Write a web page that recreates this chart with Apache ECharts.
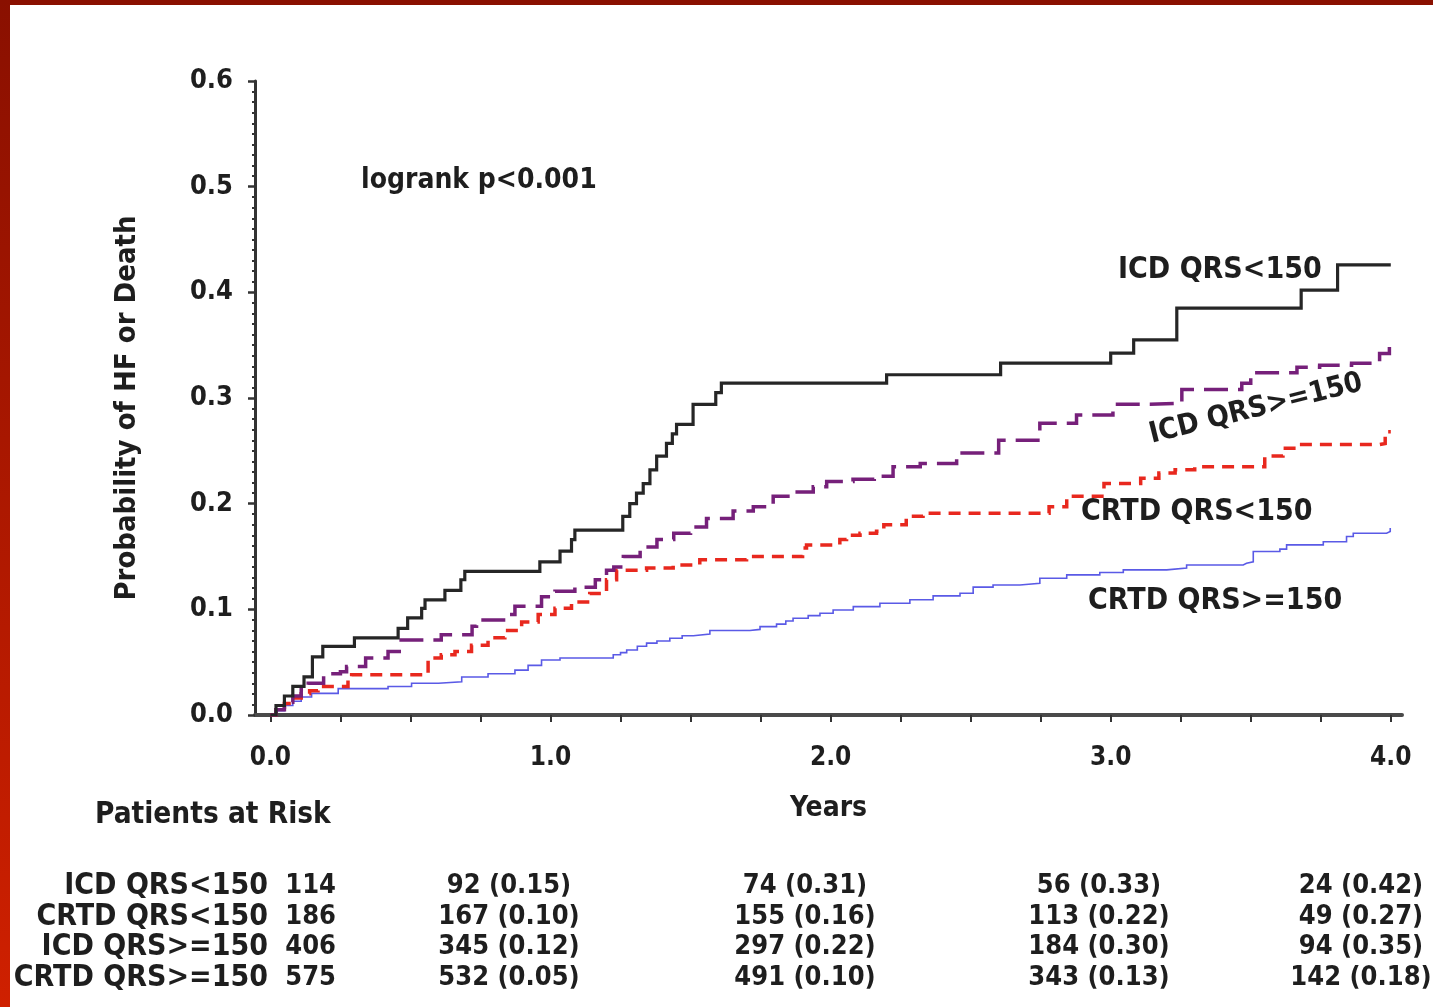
<!DOCTYPE html>
<html>
<head>
<meta charset="utf-8">
<title>Probability of HF or Death by QRS and device</title>
<script src="https://cdn.jsdelivr.net/npm/echarts@6/dist/echarts.min.js"></script>
<style>
  html, body { margin: 0; padding: 0; background: #ffffff; }
  #chart { width: 1433px; height: 1007px; }
</style>
</head>
<body>
<div id="chart"></div>
<script>
// Kaplan-Meier cumulative event curves: [years, probability], value holds until the next point
const icdLt150 = [
  [0, 0], [0.02, 0.009], [0.05, 0.018], [0.08, 0.027], [0.12, 0.036], [0.15, 0.055],
  [0.187, 0.065], [0.30, 0.073], [0.456, 0.082], [0.49, 0.092], [0.54, 0.101], [0.552, 0.109],
  [0.623, 0.118], [0.68, 0.128], [0.694, 0.136], [0.962, 0.145], [1.034, 0.155], [1.075, 0.166],
  [1.087, 0.175], [1.258, 0.188], [1.283, 0.2], [1.307, 0.21], [1.331, 0.219], [1.355, 0.232],
  [1.379, 0.245], [1.414, 0.257], [1.435, 0.266], [1.45, 0.275], [1.509, 0.294], [1.59, 0.305],
  [1.61, 0.314], [2.2, 0.322], [2.607, 0.333], [3.0, 0.3425], [3.082, 0.355], [3.236, 0.385],
  [3.68, 0.402], [3.81, 0.426], [4.0, 0.426]
];
const crtdLt150 = [
  [0, 0], [0.02, 0.005], [0.05, 0.011], [0.08, 0.016], [0.11, 0.02], [0.14, 0.023], [0.17, 0.027],
  [0.277, 0.035], [0.29, 0.038], [0.563, 0.054], [0.61, 0.057], [0.659, 0.06], [0.718, 0.066],
  [0.777, 0.073], [0.837, 0.08], [0.897, 0.088], [0.956, 0.095], [1.016, 0.101], [1.075, 0.107],
  [1.14, 0.115], [1.2, 0.128], [1.236, 0.137], [1.343, 0.139], [1.438, 0.142], [1.533, 0.147],
  [1.7, 0.15], [1.9, 0.158], [1.914, 0.161], [2.033, 0.166], [2.057, 0.17], [2.105, 0.172],
  [2.164, 0.174], [2.19, 0.18], [2.27, 0.188], [2.33, 0.191], [2.78, 0.197], [2.843, 0.207],
  [2.976, 0.219], [3.107, 0.224], [3.172, 0.229], [3.23, 0.232], [3.3, 0.235], [3.55, 0.245],
  [3.615, 0.2525], [3.665, 0.256], [3.96, 0.257], [3.98, 0.268], [4.0, 0.268]
];
const icdGe150 = [
  [0, 0], [0.02, 0.005], [0.05, 0.012], [0.08, 0.018], [0.11, 0.024], [0.135, 0.03], [0.19, 0.039],
  [0.25, 0.041], [0.272, 0.046], [0.34, 0.054], [0.42, 0.06], [0.46, 0.071], [0.61, 0.076],
  [0.72, 0.084], [0.736, 0.09], [0.85, 0.095], [0.873, 0.103], [0.968, 0.112], [1.016, 0.117],
  [1.087, 0.121], [1.16, 0.128], [1.2, 0.137], [1.226, 0.14], [1.26, 0.15], [1.32, 0.159],
  [1.38, 0.166], [1.44, 0.172], [1.5, 0.178], [1.557, 0.186], [1.652, 0.193], [1.724, 0.197],
  [1.795, 0.207], [1.866, 0.211], [1.938, 0.216], [1.986, 0.221], [2.08, 0.223], [2.156, 0.226],
  [2.223, 0.235], [2.32, 0.238], [2.45, 0.248], [2.6, 0.26], [2.747, 0.276], [2.878, 0.284],
  [3.008, 0.294], [3.14, 0.295], [3.254, 0.308], [3.468, 0.314], [3.5, 0.324], [3.665, 0.329],
  [3.746, 0.331], [3.86, 0.333], [3.96, 0.342], [3.995, 0.352], [4.0, 0.352]
];
const crtdGe150 = [
  [0, 0], [0.02, 0.004], [0.05, 0.009], [0.08, 0.013], [0.11, 0.017], [0.147, 0.0205],
  [0.242, 0.025], [0.42, 0.027], [0.504, 0.03], [0.6, 0.0315], [0.683, 0.036], [0.777, 0.039],
  [0.873, 0.0425], [0.92, 0.047], [0.968, 0.052], [1.034, 0.054], [1.224, 0.057], [1.25, 0.059],
  [1.272, 0.0615], [1.31, 0.065], [1.343, 0.068], [1.38, 0.07], [1.426, 0.0726], [1.47, 0.075],
  [1.51, 0.0767], [1.569, 0.08], [1.712, 0.081], [1.748, 0.0836], [1.807, 0.086], [1.84, 0.089],
  [1.866, 0.0916], [1.92, 0.094], [1.962, 0.0963], [2.009, 0.0994], [2.081, 0.1026], [2.176, 0.1058],
  [2.283, 0.109], [2.366, 0.1127], [2.462, 0.1152], [2.509, 0.121], [2.58, 0.123], [2.676, 0.1247],
  [2.747, 0.1294], [2.843, 0.1326], [2.961, 0.1348], [3.045, 0.1373], [3.2, 0.139], [3.271, 0.142],
  [3.473, 0.1436], [3.485, 0.145], [3.509, 0.1547], [3.604, 0.157], [3.628, 0.161], [3.759, 0.164],
  [3.842, 0.1689], [3.866, 0.172], [3.985, 0.1736], [3.998, 0.177], [4.0, 0.177]
];

// Axis ticks and labels
const xTickValues = [0, 0.25, 0.5, 0.75, 1, 1.25, 1.5, 1.75, 2, 2.25, 2.5, 2.75, 3, 3.25, 3.5, 3.75, 4];
const xLabelValues = [0, 1, 2, 3, 4];

// Patients-at-risk table
const riskGroups = ['ICD QRS<150', 'CRTD QRS<150', 'ICD QRS>=150', 'CRTD QRS>=150'];
const riskBaseline = [114, 186, 406, 575];
const riskAtYear = [
  [92, 74, 56, 24],
  [167, 155, 113, 49],
  [345, 297, 184, 94],
  [532, 491, 343, 142]
];
const riskProb = [
  [0.15, 0.31, 0.33, 0.42],
  [0.10, 0.16, 0.22, 0.27],
  [0.12, 0.22, 0.30, 0.35],
  [0.05, 0.10, 0.13, 0.18]
];

const FONT = '"DejaVu Sans Condensed", "DejaVu Sans", sans-serif';
const INK = '#1e1e1e';

const chart = echarts.init(document.getElementById('chart'), null, { renderer: 'canvas' });

function txt(text, x, y, size, align, extra) {
  return Object.assign({
    type: 'text',
    x: x, y: y,
    silent: true,
    style: {
      text: text,
      font: 'bold ' + size + 'px ' + FONT,
      fill: INK,
      align: align || 'left',
      verticalAlign: 'middle'
    }
  }, extra || {});
}

const graphics = [
  // frame
  { type: 'rect', silent: true, shape: { x: 0, y: 0, width: 1433, height: 5 }, style: { fill: '#8a1000' } },
  {
    type: 'rect', silent: true, shape: { x: 0, y: 0, width: 10, height: 1007 },
    style: {
      fill: new echarts.graphic.LinearGradient(0, 0, 0, 1, [
        { offset: 0, color: '#8a1000' },
        { offset: 1, color: '#cf2000' }
      ])
    }
  },
  txt('Probability of HF or Death', 127, 408, 29, 'center', { rotation: Math.PI / 2 }),
  txt('logrank p<0.001', 361, 181, 28, 'left'),
  txt('ICD QRS<150', 1118, 270, 30, 'left'),
  txt('ICD QRS>=150', 1256, 409, 29, 'center', { rotation: 14 * Math.PI / 180 }),
  txt('CRTD QRS<150', 1081, 512, 30, 'left'),
  txt('CRTD QRS>=150', 1088, 601, 30, 'left'),
  txt('Patients at Risk', 95, 815, 29.5, 'left')
];

const rowY = [886, 917, 947, 978];
const colX = [509, 805, 1099, 1361];
riskGroups.forEach(function (g, i) {
  graphics.push(txt(g, 268, rowY[i], 30, 'right'));
  graphics.push(txt(String(riskBaseline[i]), 336, rowY[i], 27, 'right'));
  riskAtYear[i].forEach(function (n, j) {
    graphics.push(txt(n + ' (' + riskProb[i][j].toFixed(2) + ')', colX[j], rowY[i], 27, 'center'));
  });
});

function kmSeries(name, data, color, width, type) {
  return {
    name: name,
    type: 'line',
    step: 'end',
    data: data,
    showSymbol: false,
    symbol: 'none',
    silent: true,
    animation: false,
    lineStyle: { color: color, width: width, type: type, cap: 'butt', join: 'miter' },
    z: 3
  };
}

chart.setOption({
  animation: false,
  backgroundColor: '#ffffff',
  grid: { left: 255, right: 31, top: 81, bottom: 292, containLabel: false },
  xAxis: {
    type: 'value',
    min: -0.055,
    max: 4.04,
    name: 'Years',
    nameLocation: 'middle',
    nameGap: 80,
    nameTextStyle: { fontFamily: FONT, fontWeight: 'bold', fontSize: 28, color: INK },
    axisLine: { show: true, onZero: false, lineStyle: { color: '#4a4a4a', width: 4 } },
    axisTick: { show: true, customValues: xTickValues, length: 7, inside: false, lineStyle: { color: '#333', width: 2 } },
    axisLabel: {
      show: true, customValues: xLabelValues, margin: 30,
      fontFamily: FONT, fontWeight: 'bold', fontSize: 26, color: INK,
      formatter: function (v) { return v.toFixed(1); }
    },
    splitLine: { show: false }
  },
  yAxis: {
    type: 'value',
    min: 0,
    max: 0.6,
    interval: 0.1,
    axisLine: { show: true, onZero: false, lineStyle: { color: '#333', width: 3 } },
    axisTick: { show: true, length: 7, lineStyle: { color: '#333', width: 2.5 } },
    minorTick: { show: true, splitNumber: 10, length: 3, lineStyle: { color: '#333', width: 2 } },
    axisLabel: {
      margin: 22, fontFamily: FONT, fontWeight: 'bold', fontSize: 27, color: INK,
      formatter: function (v) { return v.toFixed(1); }
    },
    splitLine: { show: false },
    minorSplitLine: { show: false }
  },
  series: [
    kmSeries('CRTD QRS>=150', crtdGe150, '#5a5ae6', 1.6, 'solid'),
    kmSeries('CRTD QRS<150', crtdLt150, '#e8281e', 3.5, [12, 8]),
    kmSeries('ICD QRS>=150', icdGe150, '#76207a', 3.5, [24, 10]),
    kmSeries('ICD QRS<150', icdLt150, '#262626', 3.2, 'solid')
  ],
  graphic: { elements: graphics }
});
</script>
</body>
</html>
